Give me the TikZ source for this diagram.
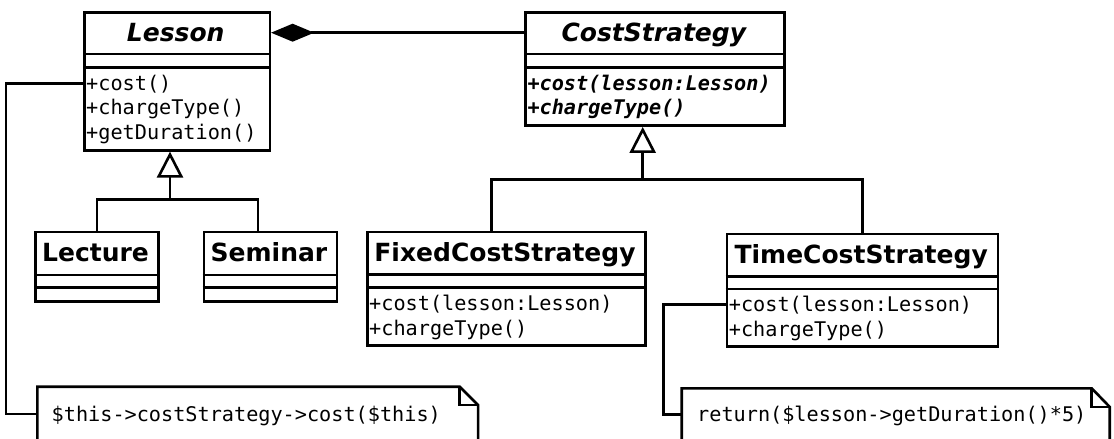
\documentclass[tikz,border=0pt]{standalone}
\usepackage{fontspec}
\setmainfont{DejaVu Sans}
\setmonofont{DejaVu Sans Mono}
\usetikzlibrary{arrows.meta,calc}

\tikzset{
  classbox/.style={draw, line width=2.6pt, inner sep=0pt, anchor=north west},
  sepline/.style={line width=2.6pt},
  cname/.style={font=\fontsize{25}{29}\selectfont\bfseries, inner sep=0pt, anchor=base},
  aname/.style={font=\fontsize{25}{29}\selectfont\bfseries\itshape, inner sep=0pt, anchor=base},
  meth/.style={font=\fontsize{20.2}{25}\selectfont\ttfamily, inner sep=0pt, anchor=base west},
  ameth/.style={font=\fontsize{20.2}{25}\selectfont\ttfamily\bfseries\itshape, inner sep=0pt, anchor=base west},
  link/.style={line width=2.6pt},
  inherit/.style={line width=2.6pt, -{Triangle[open, length=26pt, width=26pt]}},
  compose/.style={line width=2.6pt, -{Diamond[length=43pt, width=18pt]}},
  notebody/.style={inner sep=0pt, anchor=north west},
  noteline/.style={line width=2.6pt, line join=miter},
}

\begin{document}
\begin{tikzpicture}[x=1pt, y=-1pt]
\useasboundingbox (0,0) rectangle (1114,439);

% ---- Lesson
\node[classbox, minimum width=185.5pt, minimum height=138pt] (lesson) at (83,11) {};
\draw[sepline] ([yshift=-43pt]lesson.north west) -- ([yshift=-43pt]lesson.north east);
\draw[sepline] ([yshift=-56.5pt]lesson.north west) -- ([yshift=-56.5pt]lesson.north east);
\node[aname] (lessonname) at (175.75,41.5) {Lesson};
\node[meth] (lm1) at (86,90) {+cost()};
\node[meth] (lm2) at (86,114.5) {+chargeType()};
\node[meth] (lm3) at (86,139) {+getDuration()};

% ---- CostStrategy
\node[classbox, minimum width=259pt, minimum height=113.3pt] (cost) at (524.3,11) {};
\draw[sepline] ([yshift=-43pt]cost.north west) -- ([yshift=-43pt]cost.north east);
\draw[sepline] ([yshift=-56.3pt]cost.north west) -- ([yshift=-56.3pt]cost.north east);
\node[aname] (costname) at (653.8,41.5) {CostStrategy};
\node[ameth] (cm1) at (527.3,90) {+cost(lesson:Lesson)};
\node[ameth] (cm2) at (527.3,114.5) {+chargeType()};

% ---- Lecture
\node[classbox, minimum width=123pt, minimum height=69.3pt] (lecture) at (34,230.7) {};
\draw[sepline] ([yshift=-44.3pt]lecture.north west) -- ([yshift=-44.3pt]lecture.north east);
\draw[sepline] ([yshift=-56.6pt]lecture.north west) -- ([yshift=-56.6pt]lecture.north east);
\node[cname] (lecturename) at (95.5,261.5) {Lecture};

% ---- Seminar
\node[classbox, minimum width=133pt, minimum height=69.3pt] (seminar) at (202.5,230.7) {};
\draw[sepline] ([yshift=-44.3pt]seminar.north west) -- ([yshift=-44.3pt]seminar.north east);
\draw[sepline] ([yshift=-56.6pt]seminar.north west) -- ([yshift=-56.6pt]seminar.north east);
\node[cname] (seminarname) at (269,261.5) {Seminar};

% ---- FixedCostStrategy
\node[classbox, minimum width=278pt, minimum height=113.3pt] (fixed) at (366,230.7) {};
\draw[sepline] ([yshift=-43.8pt]fixed.north west) -- ([yshift=-43.8pt]fixed.north east);
\draw[sepline] ([yshift=-56.6pt]fixed.north west) -- ([yshift=-56.6pt]fixed.north east);
\node[cname] (fixedname) at (505,261.5) {FixedCostStrategy};
\node[meth] (fm1) at (369,310) {+cost(lesson:Lesson)};
\node[meth] (fm2) at (369,335.5) {+chargeType()};

% ---- TimeCostStrategy
\node[classbox, minimum width=271pt, minimum height=112.3pt] (time) at (725.7,232.7) {};
\draw[sepline] ([yshift=-44pt]time.north west) -- ([yshift=-44pt]time.north east);
\draw[sepline] ([yshift=-56.3pt]time.north west) -- ([yshift=-56.3pt]time.north east);
\node[cname] (timename) at (861.2,263.5) {TimeCostStrategy};
\node[meth] (tm1) at (728.7,311) {+cost(lesson:Lesson)};
\node[meth] (tm2) at (728.7,336.5) {+chargeType()};

% ---- Notes
\node[notebody, minimum width=440.4pt, minimum height=80pt] (note1) at (37.3,386.7) {};
\draw[noteline] (note1.south west) -- (note1.north west) -- ([xshift=-18.4pt]note1.north east)
  -- ([yshift=-18.4pt]note1.north east) -- (note1.south east);
\draw[noteline] ([xshift=-18.4pt]note1.north east) |- ([yshift=-18.4pt]note1.north east);
\node[meth] (note1text) at (51.5,421) {\$this->costStrategy->cost(\$this)};

\node[notebody, minimum width=427.6pt, minimum height=80pt] (note2) at (681.7,388.3) {};
\draw[noteline] (note2.south west) -- (note2.north west) -- ([xshift=-18pt]note2.north east)
  -- ([yshift=-18.6pt]note2.north east) -- (note2.south east);
\draw[noteline] ([xshift=-18pt]note2.north east) |- ([yshift=-18.6pt]note2.north east);
\node[meth] (note2text) at (697,421) {return(\$lesson->getDuration()*5)};

% ---- Composition
\draw[compose] ([yshift=-21.7pt]cost.north west) -- ([yshift=-21.7pt]lesson.north east);

% ---- Inheritance Lesson
\coordinate (lj) at (170,199.5);
\draw[inherit] (lj) -- (lj |- lesson.south);
\draw[link] (lecture.north) |- (lj) -| ([xshift=55.5pt]seminar.north west);

% ---- Inheritance CostStrategy
\coordinate (cj) at (642.7,179.3);
\draw[inherit] (cj) -- (cj |- cost.south);
\draw[link] ([xshift=125.5pt]fixed.north west) |- (cj) -| (time.north);

% ---- Note connectors
\coordinate (k1) at (6,414);
\draw[link] (lesson.west |- lm1.west) -| (k1) -- (note1.west |- k1);
\coordinate (k2) at (663.3,414.5);
\draw[link] (time.west |- tm1.west) -| (k2) -- (note2.west |- k2);
\end{tikzpicture}
\end{document}
